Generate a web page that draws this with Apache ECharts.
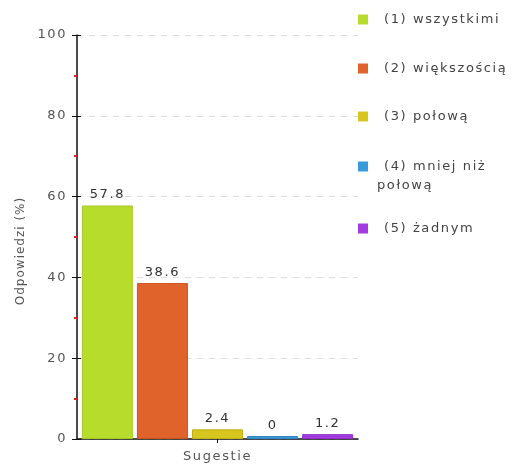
<!DOCTYPE html>
<html><head><meta charset="utf-8">
<script src="https://cdn.jsdelivr.net/npm/echarts@6/dist/echarts.min.js"></script>
<style>html,body{margin:0;padding:0;background:#fff}#c{width:522px;height:469px}</style>
</head><body><div id="c"></div>
<script>
const categories = ['Sugestie'];
const seriesNames = ['(1) wszystkimi', '(2) większością', '(3) połową', '(4) mniej niż połową', '(5) żadnym'];
const seriesValues = [57.8, 38.6, 2.4, 0, 1.2];
const yTicks = [0, 20, 40, 60, 80, 100];
const colors = ['#b8dc2c', '#e0632b', '#d6c61f', '#3a9bdc', '#a23ce0'];
const borders = ['#a6c826', '#c95522', '#c2b21a', '#2f86c2', '#8e30c8'];
const legendTops = [13, 62, 110, 160, 222];
const FONT = 'DejaVu Sans';

// slightly wider letter spacing, as in the reference's rendering
const SPACING = {12: 1.0, 13: 1.6};
const origFill = CanvasRenderingContext2D.prototype.fillText;
CanvasRenderingContext2D.prototype.fillText = function (t, x, y, mw) {
  const m = /(\d+(?:\.\d+)?)px/.exec(this.font);
  const sp = m ? (SPACING[Math.round(parseFloat(m[1]))] || 0) : 0;
  const prev = this.letterSpacing;
  try { this.letterSpacing = sp + 'px'; } catch (e) {}
  const r = mw === undefined ? origFill.call(this, t, x, y) : origFill.call(this, t, x, y, mw);
  try { this.letterSpacing = prev || '0px'; } catch (e) {}
  return r;
};

const chart = echarts.init(document.getElementById('c'), null, {renderer: 'canvas'});
const series = seriesNames.map((n, i) => ({
  name: n,
  type: 'bar',
  data: [seriesValues[i]],
  barWidth: 51,
  barGap: '8%',
  barMinHeight: i === 3 ? 3 : 0,
  itemStyle: {color: colors[i], borderColor: borders[i], borderWidth: 1},
  label: {show: true, position: 'top', distance: 4, color: '#333', fontFamily: FONT, fontSize: 13,
          formatter: p => String(seriesValues[i])},
  emphasis: {disabled: true}
}));
const legends = seriesNames.map((n, i) => ({
  data: [n],
  left: 358, top: legendTops[i], padding: 0,
  itemWidth: 10, itemHeight: 10, icon: 'rect',
  itemStyle: {borderWidth: 0},
  formatter: nm => nm === '(4) mniej niż połową' ? '(4) mniej niż' : nm,
  textStyle: {fontFamily: FONT, fontSize: 13, color: '#444', padding: [0, 0, 0, 11]},
  selectedMode: false
}));
const yAxisBase = {
  type: 'value', min: yTicks[0], max: yTicks[yTicks.length - 1], interval: yTicks[1] - yTicks[0]
};
chart.setOption({
  animation: false,
  color: colors,
  grid: {left: 77, right: 164, top: 35, bottom: 30, containLabel: false},
  legend: legends,
  graphic: [{type: 'text', left: 377, top: legendTops[3] + 19,
    style: {text: 'połową', font: '13px "DejaVu Sans"', fill: '#444'}}],
  xAxis: {
    type: 'category', data: categories,
    axisLine: {lineStyle: {color: '#111', width: 1.5}},
    axisTick: {show: true, alignWithLabel: true, length: 4, lineStyle: {color: '#111'}},
    axisLabel: {color: '#555', fontFamily: FONT, fontSize: 13, margin: 11}
  },
  yAxis: [Object.assign({}, yAxisBase, {
    name: 'Odpowiedzi (%)', nameLocation: 'middle', nameGap: 50,
    nameTextStyle: {color: '#555', fontFamily: FONT, fontSize: 12, padding: [0, 28, 0, 0]},
    axisLine: {show: true, lineStyle: {color: '#111', width: 1.5}},
    axisTick: {show: true, length: 5, lineStyle: {color: '#111'}},
    minorTick: {show: true, splitNumber: 2, length: 3, lineStyle: {color: '#e02020', width: 2}},
    axisLabel: {color: '#555', fontFamily: FONT, fontSize: 13, margin: 10},
    splitLine: {show: true, lineStyle: {color: '#ddd', type: [6, 6]}}
  }), Object.assign({}, yAxisBase, {
    position: 'left',
    axisLine: {show: false},
    axisTick: {show: true, inside: true, length: 4, lineStyle: {color: '#111'}},
    axisLabel: {show: false},
    splitLine: {show: false}
  })],
  series: series
});
</script></body></html>
